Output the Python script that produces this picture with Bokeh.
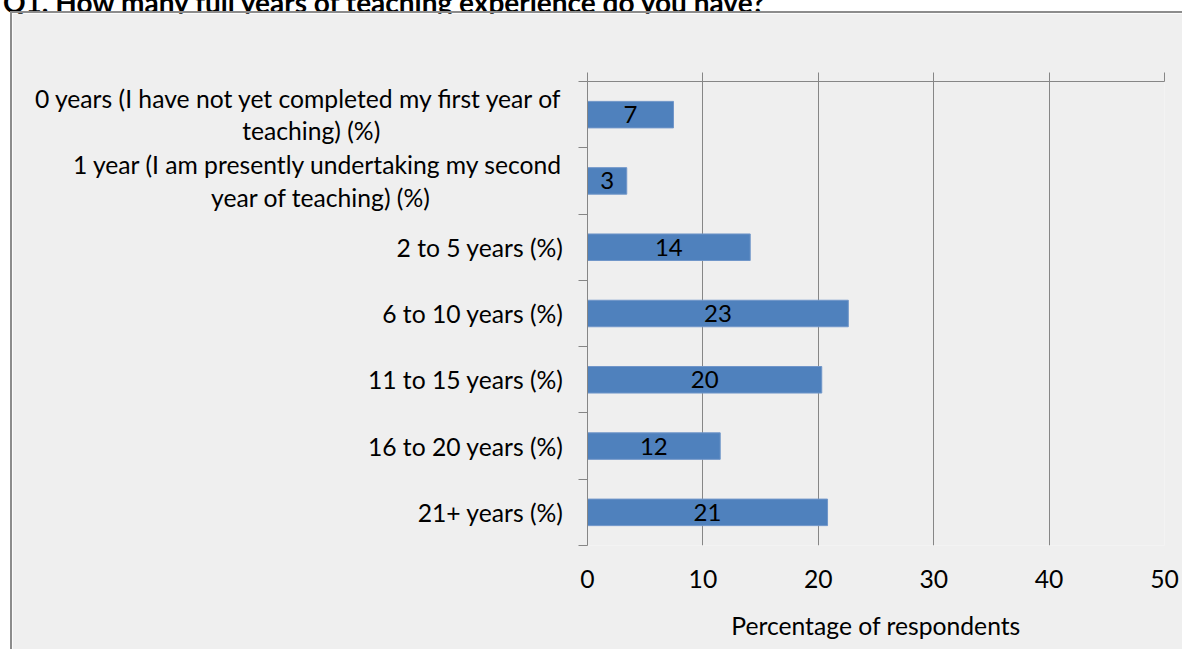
from bokeh.plotting import figure
from bokeh.models import Range1d, LinearAxis, FixedTicker, ColumnDataSource, Div
from bokeh.core.properties import value
from bokeh.embed import file_html
from bokeh.resources import INLINE

# ---- data ----
title = "Q1. How many full years of teaching experience do you have?"
category_lines = [
    ["0 years (I have not yet completed my first year of", "teaching) (%)"],
    ["1 year (I am presently undertaking my second", "year of teaching) (%)"],
    ["2 to 5 years (%)"],
    ["6 to 10 years (%)"],
    ["11 to 15 years (%)"],
    ["16 to 20 years (%)"],
    ["21+ years (%)"],
]
values = [7.45, 3.4, 14.1, 22.6, 20.3, 11.5, 20.8]
value_labels = ["7", "3", "14", "23", "20", "12", "21"]
x_ticks = [0, 10, 20, 30, 40, 50]
x_axis_title = "Percentage of respondents"

# ---- style ----
FONT = "Lato"
BG = "#EFEFEF"
GRID = "#868686"
BAR = "#4F81BD"
TXT = "#000000"
FS = "24.7px"
# trailing spaces used to centre the second line of a wrapped label under the first
second_line_pad = [29, 21, 0, 0, 0, 0, 0]

n = len(values)
centers = [n - 0.5 - i for i in range(n)]
label_text = ["\n".join(lines[:-1] + [lines[-1] + " " * pad]) if len(lines) > 1 else lines[0]
              for lines, pad in zip(category_lines, second_line_pad)]

W, H = 1172, 638
p = figure(width=W, height=H, output_backend="svg", toolbar_location=None,
           x_range=Range1d(0, 50), y_range=Range1d(0, n),
           x_axis_location=None, y_axis_location=None,
           min_border_left=575, min_border_right=20, min_border_top=68, min_border_bottom=106,
           background_fill_color=BG, border_fill_color=BG, outline_line_color=None)
p.styles = {"position": "absolute", "left": "10px", "top": "11px",
            "border-left": "2px solid #8C8C8C", "border-top": "2px solid #8C8C8C"}

p.xgrid.ticker = FixedTicker(ticks=x_ticks[1:])
p.xgrid.grid_line_color = GRID
p.ygrid.grid_line_color = None

top = LinearAxis(ticker=FixedTicker(ticks=x_ticks), axis_line_color=GRID, major_tick_line_color=GRID,
                 major_tick_out=9, major_tick_in=0, minor_tick_line_color=None,
                 major_label_text_font_size="0px", major_label_text_alpha=0)
p.add_layout(top, "above")

bottom = LinearAxis(ticker=FixedTicker(ticks=x_ticks), axis_line_color=None, major_tick_line_color=None,
                    minor_tick_line_color=None, major_tick_out=0, major_tick_in=0,
                    major_label_standoff=24, major_label_text_font=FONT, major_label_text_font_size=FS,
                    major_label_text_color=TXT,
                    axis_label=x_axis_title, axis_label_text_font=FONT, axis_label_text_font_size=FS,
                    axis_label_text_font_style="normal", axis_label_text_color=TXT, axis_label_standoff=20)
p.add_layout(bottom, "below")

left = LinearAxis(ticker=FixedTicker(ticks=centers, minor_ticks=list(range(n + 1))),
                  axis_line_color=GRID, major_tick_line_color=None, minor_tick_line_color=GRID,
                  minor_tick_out=9, minor_tick_in=0, major_tick_out=0, major_tick_in=0,
                  major_label_overrides={c: t for c, t in zip(centers, label_text)},
                  major_label_standoff=15, major_label_text_font=FONT, major_label_text_font_size=FS,
                  major_label_text_color=TXT, major_label_text_line_height=1.12)
p.add_layout(left, "left")

src = ColumnDataSource(dict(y=centers, v=values, mid=[v / 2 for v in values], lab=value_labels))
p.hbar(y="y", left=0, right="v", height=0.4, source=src, fill_color=BAR, line_color="#7096C9", line_width=1)
p.text(x="mid", y="y", text="lab", source=src, text_align="center", text_baseline="middle",
       text_font=value(FONT), text_font_size="24px", text_color=TXT)

# title, cut off at the top edge as in the source screenshot
head = Div(text=f'<span style="font: bold 28px Lato, sans-serif; color: #000; white-space: nowrap; line-height: 28px">{title}</span>',
           width=800, height=30,
           styles={"position": "absolute", "left": "-2px", "top": "-17px"})

open("out.html", "w").write(file_html([head, p], INLINE))
